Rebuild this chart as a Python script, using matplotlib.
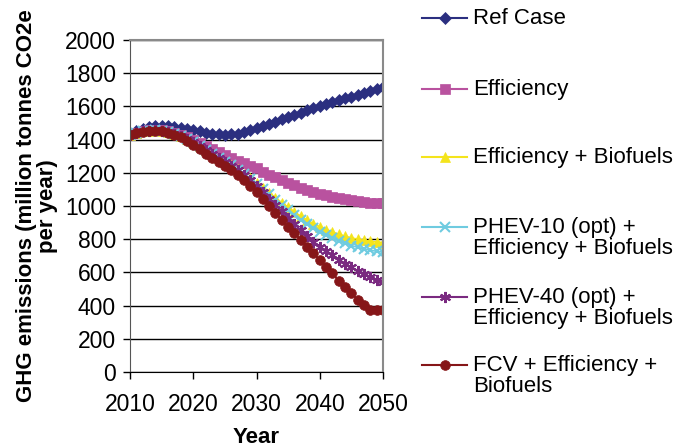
"""GHG emissions scenarios 2010-2050, line chart with Excel-style markers."""
import matplotlib
matplotlib.use("Agg")
import matplotlib.pyplot as plt
from matplotlib.lines import Line2D

plt.rcParams["font.family"] = ["Liberation Sans", "DejaVu Sans"]

years = list(range(2010, 2051))

ref_case = [1435, 1450, 1463, 1473, 1480, 1483, 1482, 1478, 1472, 1465,
            1457, 1449, 1442, 1436, 1432, 1430, 1431, 1436, 1444, 1455,
            1467, 1480, 1494, 1508, 1522, 1536, 1550, 1563, 1576, 1589,
            1601, 1613, 1625, 1637, 1648, 1659, 1670, 1681, 1692, 1703,
            1718]
efficiency = [1430, 1442, 1451, 1456, 1458, 1456, 1450, 1441, 1429, 1415,
              1399, 1382, 1364, 1346, 1328, 1310, 1292, 1274, 1257, 1241,
              1226, 1207, 1189, 1172, 1155, 1139, 1124, 1110, 1097, 1085,
              1074, 1064, 1055, 1047, 1040, 1034, 1029, 1025, 1021, 1018,
              1016]
eff_bio = [1430, 1441, 1449, 1454, 1456, 1453, 1446, 1436, 1423, 1405,
           1384, 1362, 1339, 1316, 1292, 1268, 1244, 1220, 1195, 1168,
           1140, 1110, 1080, 1050, 1020, 992, 964, 938, 915, 894,
           875, 858, 843, 830, 818, 808, 800, 793, 787, 783,
           780]
phev10 = [1430, 1441, 1449, 1454, 1456, 1453, 1446, 1436, 1423, 1405,
          1384, 1362, 1339, 1316, 1292, 1268, 1244, 1219, 1192, 1163,
          1133, 1102, 1070, 1038, 1005, 973, 943, 915, 890, 866,
          845, 825, 807, 790, 775, 762, 751, 742, 734, 727,
          722]
phev40 = [1430, 1441, 1449, 1454, 1456, 1453, 1446, 1436, 1423, 1405,
          1384, 1362, 1339, 1316, 1292, 1268, 1243, 1216, 1186, 1154,
          1120, 1083, 1045, 1008, 970, 930, 892, 853, 818, 785,
          756, 728, 702, 677, 653, 631, 611, 592, 574, 557,
          540]
fcv = [1430, 1440, 1447, 1451, 1452, 1449, 1441, 1429, 1414, 1391,
       1366, 1341, 1316, 1290, 1264, 1240, 1215, 1186, 1154, 1119,
       1082, 1040, 1000, 960, 916, 872, 836, 796, 756, 714,
       676, 634, 594, 550, 514, 474, 436, 404, 376, 374,
       374]

labels = ["Ref Case", "Efficiency", "Efficiency + Biofuels",
          "PHEV-10 (opt) +\nEfficiency + Biofuels",
          "PHEV-40 (opt) +\nEfficiency + Biofuels",
          "FCV + Efficiency +\nBiofuels"]
colors = ["#2B2F80", "#B9529F", "#F4E41C", "#6FCBE0", "#7A2A80", "#861618"]
markers = ["D", "s", "^", "x", (6, 2, 0), "o"]
msizes = [6, 7.5, 7, 7, 8, 7]
series = [ref_case, efficiency, eff_bio, phev10, phev40, fcv]

fig = plt.figure(figsize=(6.78, 4.48), dpi=100)
ax = fig.add_axes([130 / 678, 1 - 372 / 448, 253 / 678, 332 / 448])

for vals, c, m, ms in zip(series, colors, markers, msizes):
    ax.plot(years, vals, color=c, marker=m, markersize=ms, linewidth=1.2,
            markeredgewidth=1.5 if m in ("x", (6, 2, 0)) else 0.5,
            markeredgecolor=c, markerfacecolor=c)

ax.set_xlim(2010, 2050)
ax.set_ylim(0, 2000)
ax.set_xticks(range(2010, 2051, 10))
ax.set_yticks(range(0, 2001, 200))
ax.yaxis.grid(True, color="black", linewidth=1.0)
ax.set_axisbelow(True)
ax.tick_params(labelsize=16.5, length=5, width=1, direction="out")
ax.tick_params(axis="x", pad=10)
ax.tick_params(axis="y", pad=5)
for side in ("top", "right"):
    ax.spines[side].set_color("#8a8a8a")
    ax.spines[side].set_linewidth(1.5)
ax.spines["left"].set_color("#555555")
ax.spines["bottom"].set_color("black")
ax.set_xlabel("Year", fontsize=16, fontweight="bold", labelpad=8)
ax.set_ylabel("GHG emissions (million tonnes CO2e\nper year)", fontsize=16,
              fontweight="bold", labelpad=5, linespacing=1.0)

# legend drawn by hand so two-line labels keep the marker on the first line
lg = fig.add_axes([0, 0, 1, 1], facecolor="none")
lg.set_xlim(0, 678)
lg.set_ylim(448, 0)
lg.axis("off")
leg_y = [18, 89, 157, 227, 297, 365]
for y, lab, c, m, ms in zip(leg_y, labels, colors, markers, msizes):
    lg.add_line(Line2D([422, 467], [y, y], color=c, linewidth=1.5))
    lg.add_line(Line2D([444.5], [y], color=c, marker=m, markersize=ms,
                       markeredgewidth=1.5 if m in ("x", (6, 2, 0)) else 0.5))
    lg.text(473, y - 10, lab, fontsize=16, va="top", ha="left",
            linespacing=1.0)

fig.savefig("out.png", dpi=100)
